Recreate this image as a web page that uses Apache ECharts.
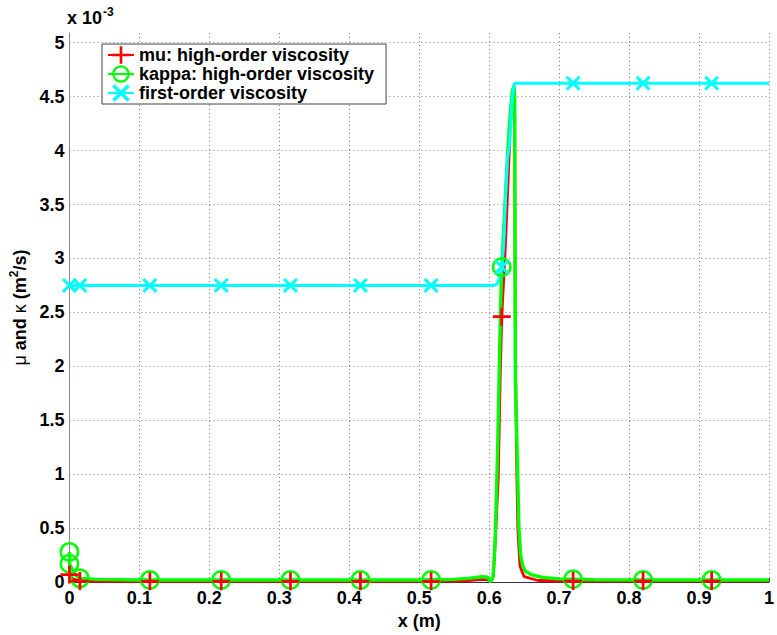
<!DOCTYPE html>
<html>
<head>
<meta charset="utf-8">
<script src="https://cdn.jsdelivr.net/npm/echarts@6/dist/echarts.min.js"></script>
<style>
  html, body { margin: 0; padding: 0; background: #fff; }
  #chart { width: 777px; height: 635px; }
</style>
</head>
<body>
<div id="chart"></div>
<script>
// Viscosity profiles across the shock (values in units of 1e-3 m^2/s)

// mu: high-order viscosity
const muX = [0, 0.005, 0.015, 0.05, 0.1, 0.2, 0.3, 0.4, 0.5, 0.55, 0.57, 0.59, 0.598, 0.602,
  0.606, 0.6095, 0.613, 0.6157, 0.618, 0.623, 0.626, 0.63, 0.633, 0.635, 0.6365, 0.6372,
  0.639, 0.641, 0.644, 0.65, 0.67, 0.72, 0.82, 0.92, 1];
const muY = [0.07, 0.03, 0.01, 0.008, 0.008, 0.008, 0.008, 0.008, 0.008, 0.01, 0.015, 0.025, 0.02, 0.0,
  0.05, 0.49, 0.96, 1.88, 2.46, 3.09, 3.55, 4.2, 4.5, 4.58, 4.3, 2.5,
  1.2, 0.5, 0.15, 0.05, 0.015, 0.01, 0.01, 0.01, 0.01];

// kappa: high-order viscosity
const kappaX = [0, 0, 0.008, 0.015, 0.04, 0.1, 0.2, 0.3, 0.4, 0.5, 0.55, 0.57, 0.59, 0.598, 0.602,
  0.6055, 0.608, 0.6095, 0.612, 0.6145, 0.6165, 0.618, 0.621, 0.625, 0.629, 0.633, 0.6355,
  0.6365, 0.637, 0.6374, 0.64, 0.6426, 0.645, 0.648, 0.652, 0.66, 0.675, 0.7, 0.75, 0.85, 1];
const kappaY = [0.28, 0.17, 0.07, 0.035, 0.025, 0.02, 0.02, 0.02, 0.02, 0.02, 0.025, 0.035, 0.05, 0.045, 0.0,
  0.05, 0.3, 0.6, 1.2, 2.0, 2.6, 2.92, 3.3, 3.8, 4.25, 4.55, 4.6,
  4.45, 3.0, 1.9, 1.2, 0.5, 0.25, 0.15, 0.1, 0.07, 0.045, 0.03, 0.022, 0.02, 0.02];

// first-order viscosity
const firstX = [0, 0.606, 0.609, 0.612, 0.615, 0.618, 0.621, 0.623, 0.626, 0.629, 0.633, 0.636, 1];
const firstY = [2.75, 2.75, 2.755, 2.77, 2.83, 2.92, 3.15, 3.5, 3.92, 4.05, 4.5, 4.625, 4.625];

// marker positions along each curve
const markX = [0, 0.015, 0.115, 0.217, 0.316, 0.416, 0.517, 0.618, 0.72, 0.82, 0.918];
const muMarkY = [0.07, 0.01, 0.008, 0.008, 0.008, 0.008, 0.008, 2.46, 0.01, 0.01, 0.01];
const kappaMarkX = [0, 0, 0.015, 0.115, 0.217, 0.316, 0.416, 0.517, 0.618, 0.72, 0.82, 0.918];
const kappaMarkY = [0.28, 0.17, 0.035, 0.02, 0.02, 0.02, 0.02, 0.02, 2.92, 0.026, 0.02, 0.02];
const firstMarkY = [2.75, 2.75, 2.75, 2.75, 2.75, 2.75, 2.75, 2.92, 4.625, 4.625, 4.625];

const seriesNames = ['mu: high-order viscosity', 'kappa: high-order viscosity', 'first-order viscosity'];
const xTicks = { min: 0, max: 1, interval: 0.1 };
const yTicks = { min: 0, max: 5.09, interval: 0.5 };

const zip = (xs, ys) => xs.map((x, i) => [x, ys[i]]);

// marker shapes
const PLUS = 'path://M-1.5,-10L1.5,-10L1.5,-1.5L10,-1.5L10,1.5L1.5,1.5L1.5,10L-1.5,10L-1.5,1.5L-10,1.5L-10,-1.5L-1.5,-1.5Z';
const RING = 'path://M0,-10A10,10 0 1,1 0,10A10,10 0 1,1 0,-10ZM0,-7.4A7.4,7.4 0 1,0 0,7.4A7.4,7.4 0 1,0 0,-7.4Z';
const CROSS = 'path://M-10,-7.2L-7.2,-10L0,-2.8L7.2,-10L10,-7.2L2.8,0L10,7.2L7.2,10L0,2.8L-7.2,10L-10,7.2L-2.8,0Z';

const RED = '#ff0000', GREEN = '#00ff00', CYAN = '#00ffff';
const FONT = '"Liberation Sans", Arial, Helvetica, sans-serif';
const GRID_LINE = { color: '#7a7a7a', type: [1, 3], width: 1 };

const chart = echarts.init(document.getElementById('chart'), null, { renderer: 'svg' });

const lineSeries = (name, data, color, symbol, width, z) => ({
  name, type: 'line', data, symbol, showSymbol: false, z,
  lineStyle: { color, width }, itemStyle: { color },
  emphasis: { disabled: true }, silent: true
});
const markSeries = (name, data, color, symbol, size, z) => ({
  name, type: 'scatter', data, symbol, symbolSize: size, z,
  itemStyle: { color, opacity: 1 }, emphasis: { disabled: true }, silent: true
});

chart.setOption({
  animation: false,
  backgroundColor: '#fff',
  grid: { left: 68, right: 3, top: 33, bottom: 52 },
  textStyle: { fontFamily: FONT },
  legend: {
    data: seriesNames,
    orient: 'vertical',
    left: 102, top: 44,
    padding: [2, 12, 2, 5],
    itemWidth: 26, itemHeight: 22, itemGap: 1,
    backgroundColor: '#fff',
    borderColor: '#444', borderWidth: 1, borderRadius: 0,
    textStyle: { fontFamily: FONT, fontSize: 18, fontWeight: 'bold', color: '#000' },
    selectedMode: false
  },
  xAxis: {
    type: 'value', min: xTicks.min, max: xTicks.max, interval: xTicks.interval,
    name: 'x (m)', nameLocation: 'middle', nameGap: 26,
    nameTextStyle: { fontFamily: FONT, fontSize: 18, fontWeight: 'bold', color: '#000' },
    axisLine: { show: true, onZero: false, lineStyle: { color: '#333', width: 1 } },
    axisTick: { show: true, inside: true, length: 4, lineStyle: { color: '#555' } },
    axisLabel: { margin: 7, fontFamily: FONT, fontSize: 18, fontWeight: 'bold', color: '#000' },
    splitLine: { show: true, lineStyle: GRID_LINE }
  },
  yAxis: {
    type: 'value', min: yTicks.min, max: yTicks.max, interval: yTicks.interval,
    name: '{g|μ} and {g|κ} (m{sup|2}/s)', nameLocation: 'middle', nameGap: 27,
    nameTextStyle: {
      fontFamily: FONT, fontSize: 18, fontWeight: 'bold', color: '#000',
      rich: {
        g: { fontFamily: FONT, fontSize: 18, fontWeight: 'normal', color: '#000' },
        sup: { fontFamily: FONT, fontSize: 12, fontWeight: 'bold', color: '#000', padding: [0, 0, 11, 0] }
      }
    },
    axisLine: { show: true, onZero: false, lineStyle: { color: '#888', width: 1 } },
    axisTick: { show: false },
    axisLabel: {
      margin: 5, fontFamily: FONT, fontSize: 18, fontWeight: 'bold', color: '#000',
      showMaxLabel: false,
      formatter: v => (Math.abs(v / 0.5 - Math.round(v / 0.5)) < 1e-6 ? String(+v.toFixed(1)) : '')
    },
    splitLine: { show: true, showMaxLine: false, lineStyle: GRID_LINE }
  },
  graphic: [{
    type: 'text', left: 67, top: 6, silent: true,
    style: {
      text: 'x 10{sup|-3}',
      fontFamily: FONT, fontSize: 18, fontWeight: 'bold', fill: '#000',
      rich: { sup: { fontFamily: FONT, fontSize: 12, fontWeight: 'bold', fill: '#000', padding: [0, 0, 11, 1] } }
    }
  }],
  series: [
    lineSeries(seriesNames[0], zip(muX, muY), RED, PLUS, 2.8, 2),
    lineSeries(seriesNames[1], zip(kappaX, kappaY), GREEN, RING, 3.4, 3),
    lineSeries(seriesNames[2], zip(firstX, firstY), CYAN, CROSS, 3, 4),
    markSeries('kappa markers', zip(kappaMarkX, kappaMarkY), GREEN, RING, 20, 5),
    markSeries('mu markers', zip(markX, muMarkY), RED, PLUS, 18, 6),
    markSeries('first-order markers', zip(markX, firstMarkY), CYAN, CROSS, 15, 7)
  ]
});
</script>
</body>
</html>
